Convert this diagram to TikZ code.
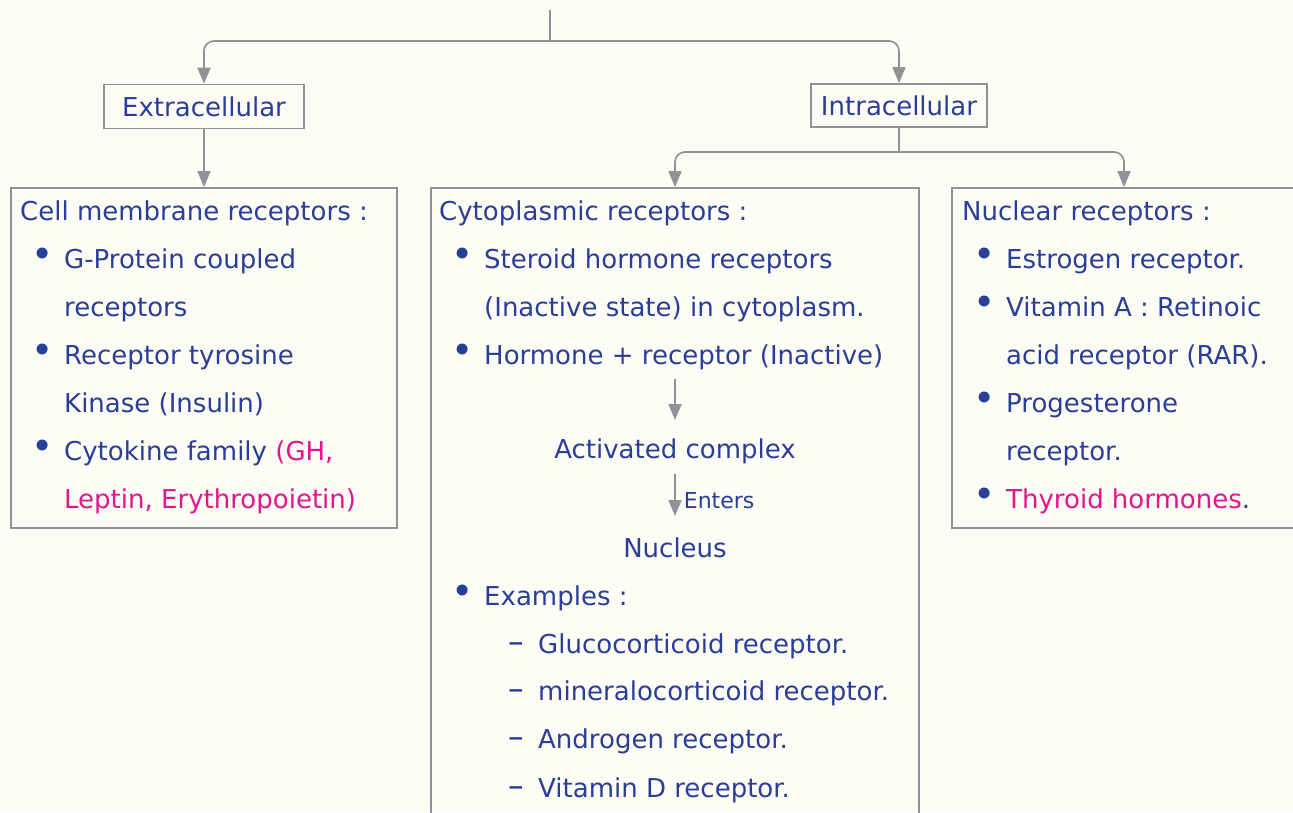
\documentclass[tikz,border=0pt]{standalone}
\usepackage{fontspec}
\setmainfont{DejaVu Sans}
\usepackage{xcolor}
\usepackage{tikz}
\usetikzlibrary{arrows.meta,positioning}
\definecolor{rcink}{RGB}{40,62,152}
\definecolor{rcpink}{RGB}{230,20,138}
\definecolor{rcline}{RGB}{145,146,151}
\definecolor{rcpaper}{RGB}{253,253,245}
\newcommand{\bul}{\makebox[33pt][l]{\raisebox{1pt}{\scalebox{1.45}{\textbullet}}}}
\newcommand{\dsh}{\makebox[30pt][l]{\scalebox{1.2}[1.35]{--}}}

\begin{document}
\begin{tikzpicture}[
  x=1pt, y=-1pt,
  font=\fontsize{26}{30}\selectfont,
  head/.style={draw=rcline, line width=1.7pt, fill=rcpaper, text=rcink,
               minimum height=44pt, inner sep=0pt},
  panel/.style={draw=rcline, line width=1.7pt, inner sep=0pt},
  txt/.style={anchor=base west, inner sep=0pt, text=rcink},
  flowtxt/.style={anchor=base, inner sep=0pt, text=rcink},
  arr/.style={-{Triangle[length=16pt,width=13pt]}, rcline, line width=1.7pt},
  wire/.style={rcline, line width=1.7pt}
]
\clip (0,0) rectangle (1293,812);
\fill[rcpaper] (0,0) rectangle (1293,812);

\node[head, minimum width=200pt] (extra) at (204,106.5) {Extracellular};
\node[head, minimum width=176pt, minimum height=43pt] (intra) at (899,105.5) {Intracellular};

% the three receptor panels
\node[panel, minimum width=386pt, minimum height=340pt] (membrane) at (204,358) {};
\node[panel, minimum width=488pt, minimum height=660pt] (cyto) at (675,518) {};
\node[panel, minimum width=344pt, minimum height=340pt] (nuclear) at (1124,358) {};

\coordinate (stem) at (550,10);
\coordinate (split) at (550,41);
\coordinate (fork) at (899,152);
\draw[wire] (stem) -- (split);
\draw[arr, rounded corners=10pt] (split) -| (extra.north);
\draw[arr, rounded corners=10pt] (split) -| (intra.north);
\draw[arr] (extra.south) -- (membrane.north);
\draw[wire] (intra.south) -- (fork);
\draw[arr, rounded corners=10pt] (fork) -| (cyto.north);
\draw[arr, rounded corners=10pt] (fork) -| (nuclear.north);

% cell membrane
\node[txt] (cm0) at (20,220) {Cell membrane receptors :};
\node[txt] (cm1) at (31,268) {\bul G-Protein coupled};
\node[txt] (cm2) at (64,316) {receptors};
\node[txt] (cm3) at (31,364) {\bul Receptor tyrosine};
\node[txt] (cm4) at (64,412) {Kinase (Insulin)};
\node[txt] (cm5) at (31,460) {\bul Cytokine family \textcolor{rcpink}{(GH,}};
\node[txt, text=rcpink] (cm6) at (64,508) {Leptin, Erythropoietin)};

% cytoplasmic
\node[txt] (cy0) at (439,220) {Cytoplasmic receptors :};
\node[txt] (cy1) at (451,268) {\bul Steroid hormone receptors};
\node[txt] (cy2) at (484,316) {(Inactive state) in cytoplasm.};
\node[txt] (cy3) at (451,364) {\bul Hormone + receptor (Inactive)};
\node[flowtxt] (complex) at (675,458) {Activated complex};
\node[flowtxt] (nucleus) at (675,557) {Nucleus};
\draw[arr, shorten <=9pt, shorten >=18pt] (cy3.south -| complex.north) -- (complex.north);
\draw[arr, shorten <=10pt, shorten >=21pt] (complex.south) -- (nucleus.north)
  node[midway, right=8pt, inner sep=0pt, text=rcink, font=\fontsize{22}{25}\selectfont] (enters) {Enters};
\node[txt] (cy4) at (451,605) {\bul Examples :};
\node[txt] (cy5) at (508,653) {\dsh Glucocorticoid receptor.};
\node[txt] (cy6) at (508,700) {\dsh mineralocorticoid receptor.};
\node[txt] (cy7) at (508,748) {\dsh Androgen receptor.};
\node[txt] (cy8) at (508,797) {\dsh Vitamin D receptor.};

% nuclear
\node[txt] (nu0) at (962,220) {Nuclear receptors :};
\node[txt] (nu1) at (973,268) {\bul Estrogen receptor.};
\node[txt] (nu2) at (973,316) {\bul Vitamin A : Retinoic};
\node[txt] (nu3) at (1006,364) {acid receptor (RAR).};
\node[txt] (nu4) at (973,412) {\bul Progesterone};
\node[txt] (nu5) at (1006,460) {receptor.};
\node[txt] (nu6) at (973,508) {\bul \textcolor{rcpink}{Thyroid hormones}.};

\end{tikzpicture}
\end{document}
